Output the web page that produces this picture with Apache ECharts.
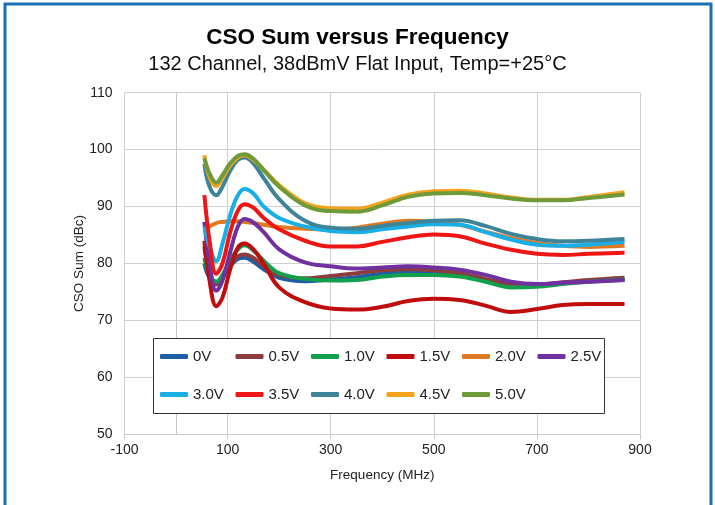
<!DOCTYPE html>
<html>
<head>
<meta charset="utf-8">
<script src="https://cdn.jsdelivr.net/npm/echarts@6/dist/echarts.min.js"></script>
<style>
html,body{margin:0;padding:0;background:#fff;}
#c{width:715px;height:505px;}
</style>
</head>
<body>
<div id="c"></div>
<script>
const freq = [55, 65, 78, 90, 105, 120, 133, 150, 170, 200, 250, 300, 350, 400, 450, 500, 550, 600, 650, 700, 750, 800, 870];

const v0_0 = [80, 77.5, 76.8, 77.5, 79.5, 80.8, 81, 80.3, 79, 77.5, 76.9, 77.2, 77.6, 78.2, 78.5, 78.4, 78, 77, 76.1, 76.2, 76.6, 76.9, 77.1];
const v0_5 = [83, 78, 76.3, 77.5, 79.8, 81.3, 81.6, 81, 79.5, 78, 77.4, 77.8, 78.3, 78.8, 79, 78.8, 78.3, 77.3, 76.4, 76.3, 76.7, 77.1, 77.5];
const v1_0 = [81, 78, 76.8, 78, 80.5, 82.5, 83.2, 82.3, 80.5, 78.3, 77.3, 77, 77.1, 77.7, 78, 78, 77.7, 76.8, 75.8, 75.9, 76.4, 76.8, 77.2];
const v1_5 = [84, 77, 72.5, 74, 79, 82.8, 83.5, 82.5, 80, 75.8, 73.2, 72.1, 71.9, 72.4, 73.4, 73.8, 73.6, 72.6, 71.5, 72, 72.7, 72.9, 72.9];
const v2_0 = [85.5, 86.5, 87.1, 87.3, 87.4, 87.4, 87.3, 87.1, 86.8, 86.4, 86.1, 86, 86.3, 87, 87.5, 87.3, 86.8, 85.6, 84.5, 83.6, 83.1, 82.9, 83.1];
const v2_5 = [87.3, 80, 75.2, 77, 82, 86.5, 87.8, 87.2, 85.5, 82.5, 80.2, 79.5, 79.1, 79.3, 79.5, 79.3, 78.9, 78, 76.8, 76.4, 76.6, 76.8, 77.1];
const v3_0 = [86.5, 83, 80.4, 83.5, 88.5, 92, 93.1, 92.3, 90, 88, 86.5, 85.7, 85.5, 86, 86.5, 86.9, 86.8, 85.5, 84.2, 83.3, 83.1, 83.3, 83.8];
const v3_5 = [92, 84, 78.2, 80, 85.5, 89.3, 90.4, 89.8, 88, 86, 84, 83, 83, 83.8, 84.6, 85.1, 84.8, 83.5, 82.4, 81.7, 81.5, 81.7, 81.9];
const v4_0 = [97.5, 93.5, 92, 93.5, 96.3, 98.2, 98.6, 97.6, 95, 91.3, 87.5, 86.3, 86.1, 86.6, 87.1, 87.5, 87.6, 86.6, 85.2, 84.3, 83.9, 84, 84.3];
const v4_5 = [99, 95.2, 93.6, 95, 97.2, 98.6, 99, 98.2, 96.5, 93.8, 90.6, 89.7, 89.6, 90.7, 92.1, 92.7, 92.8, 92.3, 91.6, 91.2, 91.2, 91.7, 92.5];
const v5_0 = [98.5, 95.8, 94.2, 95.5, 97.6, 98.9, 99.2, 98.4, 96.4, 93.5, 90.2, 89.2, 89.1, 90.2, 91.7, 92.3, 92.4, 92, 91.4, 91.1, 91.1, 91.5, 92.1];

const seriesNames = ['0V', '0.5V', '1.0V', '1.5V', '2.0V', '2.5V', '3.0V', '3.5V', '4.0V', '4.5V', '5.0V'];
const seriesValues = [v0_0, v0_5, v1_0, v1_5, v2_0, v2_5, v3_0, v3_5, v4_0, v4_5, v5_0];
const colors = ['#1d5fa6', '#8c3c3c', '#12a04c', '#bf0d0d', '#e07a22', '#7030a0', '#1aaee6', '#ee1515', '#3e8499', '#f5a31a', '#6e9a3a'];

const xTicks = [-100, 100, 300, 500, 700, 900];
const yTicks = [50, 60, 70, 80, 90, 100, 110];

const FONT = 'Liberation Sans';

const chart = echarts.init(document.getElementById('c'), null, {renderer: 'canvas'});

const series = seriesNames.map((name, i) => ({
  name: name,
  type: 'line',
  smooth: 0.4,
  showSymbol: false,
  symbol: 'none',
  data: freq.map((f, j) => [f, seriesValues[i][j]]),
  lineStyle: {width: 4, color: colors[i]},
  itemStyle: {color: colors[i]},
  z: 3
}));

// legend: 6 columns, 2 rows, one legend per item for exact column placement
const legendCols = 6;
const legends = seriesNames.map((name, i) => ({
  data: [name],
  orient: 'horizontal',
  left: 160 + (i % legendCols) * 75.5,
  top: i < legendCols ? 349 : 387,
  itemWidth: 28,
  itemHeight: 5,
  icon: 'roundRect',
  z: 20,
  padding: 0,
  textStyle: {fontFamily: FONT, fontSize: 15, color: '#222'},
  selectedMode: false
}));

chart.setOption({
  animation: false,
  backgroundColor: '#fff',
  color: colors,
  title: [
    {text: 'CSO Sum versus Frequency', left: 'center', top: 21,
     textStyle: {fontFamily: FONT, fontSize: 22.5, fontWeight: 'bold', color: '#000'}},
    {text: '132 Channel, 38dBmV Flat Input, Temp=+25°C', left: 'center', top: 49,
     textStyle: {fontFamily: FONT, fontSize: 20, fontWeight: 'normal', color: '#111'}}
  ],
  grid: {left: 124.5, top: 92.7, width: 515.5, height: 341.6, containLabel: false},
  xAxis: {
    type: 'value', min: -100, max: 900, interval: 200,
    name: 'Frequency (MHz)', nameLocation: 'middle', nameGap: 34,
    nameTextStyle: {fontFamily: FONT, fontSize: 13.5, color: '#222'},
    axisLine: {show: true, lineStyle: {color: '#c8c8c8', width: 1}},
    axisTick: {show: true, length: 5, lineStyle: {color: '#c8c8c8'}},
    axisLabel: {fontFamily: FONT, fontSize: 14, color: '#222', margin: 9},
    splitLine: {show: true, lineStyle: {color: '#cfcfcf', width: 1}}
  },
  yAxis: {
    type: 'value', min: 50, max: 110, interval: 10,
    name: 'CSO Sum (dBc)', nameLocation: 'middle', nameGap: 38, nameRotate: 90,
    nameMoveOverlap: false,
    nameTextStyle: {fontFamily: FONT, fontSize: 13.5, color: '#222'},
    axisLine: {show: true, lineStyle: {color: '#c8c8c8', width: 1}},
    axisTick: {show: false},
    axisLabel: {fontFamily: FONT, fontSize: 14, color: '#222', margin: 12},
    splitLine: {show: true, lineStyle: {color: '#cfcfcf', width: 1}}
  },
  legend: legends,
  graphic: [
    {type: 'rect', shape: {x: 5, y: 4, width: 706, height: 540}, style: {fill: 'none', stroke: '#1b6fb5', lineWidth: 3}, z: 100},
    {type: 'rect', shape: {x: 153.5, y: 338.5, width: 451, height: 75}, style: {fill: '#fff', stroke: '#333', lineWidth: 1}, z: 5}
  ],
  series: series
});
</script>
</body>
</html>
